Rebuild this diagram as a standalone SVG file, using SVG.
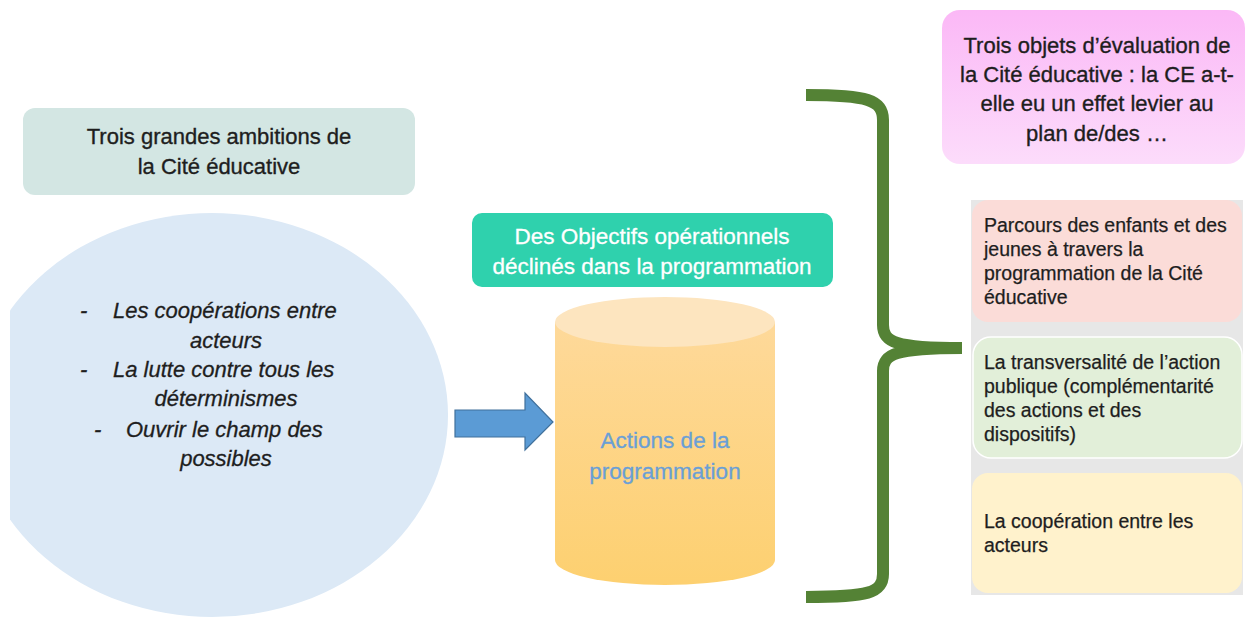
<svg xmlns="http://www.w3.org/2000/svg" width="1246" height="617" viewBox="0 0 1246 617">
<defs>
<style>
text{font-family:"Liberation Sans",Arial,sans-serif;}
.t{font-size:22px;fill:#1e1e1e;stroke:#1e1e1e;stroke-width:0.35;text-anchor:middle;}
.it{font-size:22px;fill:#1e1e1e;stroke:#1e1e1e;stroke-width:0.3;font-style:italic;}
.w{font-size:22.5px;fill:#ffffff;stroke:#ffffff;stroke-width:0.3;text-anchor:middle;}
.bl{font-size:22.5px;fill:#6a9fd6;stroke:#6a9fd6;stroke-width:0.3;text-anchor:middle;}
.s{font-size:19.5px;fill:#1e1e1e;stroke:#1e1e1e;stroke-width:0.25;}
</style>
<linearGradient id="pinkG" x1="0" y1="0" x2="0" y2="1">
<stop offset="0" stop-color="#fbb8f6"/>
<stop offset="1" stop-color="#fcdcfb"/>
</linearGradient>
<linearGradient id="cylG" x1="0" y1="0" x2="0" y2="1">
<stop offset="0" stop-color="#fed99a"/>
<stop offset="1" stop-color="#fdd070"/>
</linearGradient>
<clipPath id="clipL"><rect x="10" y="0" width="1236" height="617"/></clipPath>
</defs>
<rect width="1246" height="617" fill="#ffffff"/>

<g id="ambitions-title">
<rect x="23" y="108" width="392" height="87" rx="12" fill="#d3e6e3"/>
<text class="t" x="219" y="144">Trois grandes ambitions de</text>
<text class="t" x="219" y="174">la Cité éducative</text>
</g>

<g id="ambitions">
<ellipse cx="212" cy="415" rx="236" ry="202" fill="#dce9f6" clip-path="url(#clipL)"/>
<text class="it" x="80" y="318">-</text>
<text class="it" x="113" y="318">Les coopérations entre</text>
<text class="it" x="226" y="348" text-anchor="middle">acteurs</text>
<text class="it" x="80" y="377">-</text>
<text class="it" x="113" y="377">La lutte contre tous les</text>
<text class="it" x="226" y="406" text-anchor="middle">déterminismes</text>
<text class="it" x="94" y="437">-</text>
<text class="it" x="126" y="437">Ouvrir le champ des</text>
<text class="it" x="226" y="466" text-anchor="middle">possibles</text>
</g>

<g id="objectifs">
<rect x="472" y="213" width="361" height="74" rx="10" fill="#2fd1ad"/>
<text class="w" x="652" y="244">Des Objectifs opérationnels</text>
<text class="w" x="652" y="274">déclinés dans la programmation</text>
</g>

<g id="actions">
<path d="M555,322 L555,560 A110,25 0 0 0 775,560 L775,322 Z" fill="url(#cylG)"/>
<ellipse cx="665" cy="322" rx="110" ry="25" fill="#fde5bf"/>
<text class="bl" x="665" y="448">Actions de la</text>
<text class="bl" x="665" y="479">programmation</text>
</g>

<g id="connectors">
<path d="M455,410 L525,410 L525,393 L553,422 L525,450 L525,437 L455,437 Z" fill="#5b9bd5" stroke="#41719c" stroke-width="1.2"/>
<path d="M806,95 C868,95 883,100 883,120 L883,325 C883,342 895,348 962,348 M962,348 C895,348 883,354 883,371 L883,574 C883,593 868,597 806,597" fill="none" stroke="#548235" stroke-width="12"/>
</g>

<g id="objets-title">
<rect x="942" y="10" width="303" height="154" rx="18" fill="url(#pinkG)"/>
<text class="t" x="1097" y="53">Trois objets d’évaluation de</text>
<text class="t" x="1097" y="82">la Cité éducative : la CE a-t-</text>
<text class="t" x="1097" y="111">elle eu un effet levier au</text>
<text class="t" x="1097" y="141">plan de/des …</text>
</g>

<g id="objets-panel">
<rect x="971" y="200" width="272" height="395" fill="#e7e7e7"/>
</g>

<g id="parcours">
<rect x="972" y="200" width="270" height="122" rx="16" fill="#fbdcd8"/>
<text class="s" x="984" y="232">Parcours des enfants et des</text>
<text class="s" x="984" y="256">jeunes à travers la</text>
<text class="s" x="984" y="280">programmation de la Cité</text>
<text class="s" x="984" y="304">éducative</text>
</g>

<g id="transversalite">
<rect x="973" y="337" width="269" height="121" rx="18" fill="#e2efd9" stroke="#ffffff" stroke-width="1.5"/>
<text class="s" x="984" y="369">La transversalité de l’action</text>
<text class="s" x="984" y="393">publique (complémentarité</text>
<text class="s" x="984" y="417">des actions et des</text>
<text class="s" x="984" y="441">dispositifs)</text>
</g>

<g id="cooperation">
<rect x="972" y="473" width="270" height="120" rx="16" fill="#fff2cc"/>
<text class="s" x="984" y="528">La coopération entre les</text>
<text class="s" x="984" y="552">acteurs</text>
</g>
</svg>
